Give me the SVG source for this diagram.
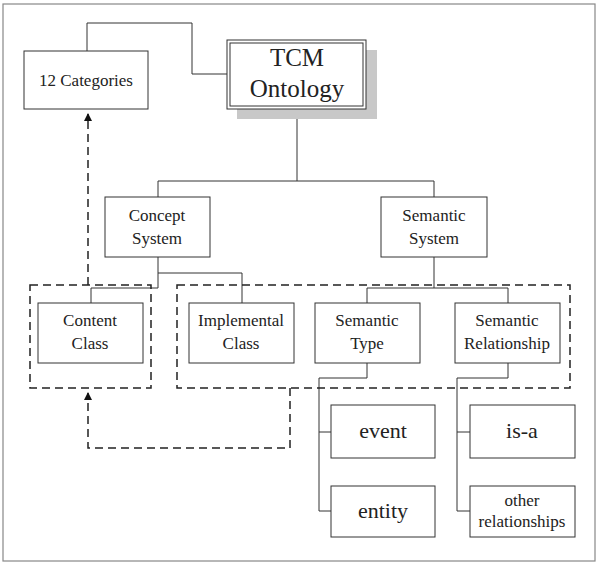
<svg xmlns="http://www.w3.org/2000/svg" width="600" height="566" viewBox="0 0 600 566">
<style>
text{font-family:"Liberation Serif","Times New Roman",serif;fill:#222;text-anchor:middle}
.t{font-size:17px}
.b{font-size:22px}
.box{fill:#fff;stroke:#333;stroke-width:1}
.ln{fill:none;stroke:#333;stroke-width:1}
.ds{fill:none;stroke:#222;stroke-width:1.5;stroke-dasharray:8,5}
</style>
<defs>
<marker id="ah" markerWidth="8" markerHeight="8" refX="7" refY="4" orient="auto" markerUnits="userSpaceOnUse">
<path d="M0,0 L8,4 L0,8 Z" fill="#111"/>
</marker>
</defs>
<rect x="3" y="4" width="592" height="557" fill="#fff" stroke="#888" stroke-width="1.2"/>
<g id="connectors">
<path class="ln" d="M87,51 V23 H192 V74 H227"/>
<path class="ln" d="M297,109 V181 M158,197 V181 H434 V197"/>
<path class="ln" d="M158,257 V288 H91 V303 M158,273 H242 V303"/>
<path class="ln" d="M434,257 V288 M367,303 V288 H508 V303"/>
<path class="ln" d="M367,363 V378 H319 V511 H331 M319,432 H331"/>
<path class="ln" d="M508,363 V378 H457 V511 H470 M457,432 H470"/>
<path class="ds" d="M88,285 V114" marker-end="url(#ah)"/>
<path class="ds" d="M290,388 V448 H88 V393" marker-end="url(#ah)"/>
<rect class="ds" x="30" y="285" width="121" height="103"/>
<rect class="ds" x="177" y="285" width="393" height="103"/>
</g>
<g id="n-12categories">
<rect class="box" x="24" y="51" width="124" height="58"/>
<text class="t" x="86" y="86">12 Categories</text>
</g>
<g id="n-tcm">
<rect x="237" y="50" width="140" height="69" fill="#c8c8c8"/>
<rect class="box" x="227" y="40" width="139" height="69"/>
<rect x="230" y="43" width="133" height="63" fill="none" stroke="#333" stroke-width="1"/>
<text x="297" y="66" style="font-size:25px">TCM</text>
<text x="297" y="97" style="font-size:25px">Ontology</text>
</g>
<g id="n-concept">
<rect class="box" x="105" y="197" width="105" height="60"/>
<text class="t" x="157" y="221">Concept</text>
<text class="t" x="157" y="244">System</text>
</g>
<g id="n-semsys">
<rect class="box" x="381" y="197" width="106" height="60"/>
<text class="t" x="434" y="221">Semantic</text>
<text class="t" x="434" y="244">System</text>
</g>
<g id="n-content">
<rect class="box" x="38" y="303" width="105" height="60"/>
<text class="t" x="90" y="326">Content</text>
<text class="t" x="90" y="349">Class</text>
</g>
<g id="n-implemental">
<rect class="box" x="189" y="303" width="105" height="60"/>
<text class="t" x="241" y="326">Implemental</text>
<text class="t" x="241" y="349">Class</text>
</g>
<g id="n-semtype">
<rect class="box" x="315" y="303" width="105" height="60"/>
<text class="t" x="367" y="326">Semantic</text>
<text class="t" x="367" y="349">Type</text>
</g>
<g id="n-semrel">
<rect class="box" x="455" y="303" width="105" height="60"/>
<text class="t" x="507" y="326">Semantic</text>
<text class="t" x="507" y="349">Relationship</text>
</g>
<g id="n-event">
<rect class="box" x="331" y="405" width="104" height="53"/>
<text class="b" x="383" y="438">event</text>
</g>
<g id="n-entity">
<rect class="box" x="331" y="486" width="104" height="51"/>
<text class="b" x="383" y="518">entity</text>
</g>
<g id="n-isa">
<rect class="box" x="470" y="405" width="105" height="53"/>
<text class="b" x="522" y="438">is-a</text>
</g>
<g id="n-other">
<rect class="box" x="470" y="486" width="105" height="51"/>
<text class="t" x="522" y="506">other</text>
<text class="t" x="522" y="527">relationships</text>
</g>
</svg>
